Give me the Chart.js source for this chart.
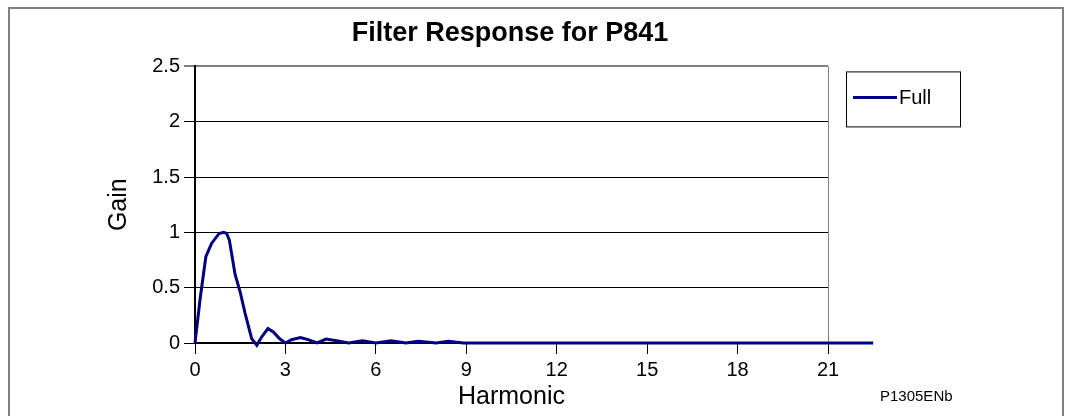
<!DOCTYPE html>
<html><head><meta charset="utf-8">
<script src="https://cdn.jsdelivr.net/npm/chart.js@4/dist/chart.umd.min.js"></script>
<style>
html,body{margin:0;padding:0;background:#fff;}
#wrap{position:relative;width:1066px;height:416px;overflow:hidden;background:#fff;}
#frame{position:absolute;left:8px;top:7px;width:1052px;height:500px;border:2px solid #808080;}
#c{position:absolute;left:0;top:0;}
</style></head><body>
<div id="wrap"><div id="frame"></div><canvas id="c" width="1066" height="416"></canvas></div>
<script>
// ---- data ----
const harmonic = [0, 0.17, 0.36, 0.55, 0.8, 0.95, 1.05, 1.14, 1.33, 1.5, 1.66, 1.88, 2.05, 2.2, 2.42, 2.6, 2.8, 3.0, 3.2, 3.5, 3.75, 4.05, 4.35, 4.7, 5.1, 5.55, 6.0, 6.5, 7.0, 7.4, 8.0, 8.4, 8.9, 22.5];
const gain     = [0, 0.40, 0.78, 0.90, 0.99, 1.0, 0.99, 0.93, 0.62, 0.46, 0.27, 0.04, -0.02, 0.05, 0.13, 0.10, 0.04, 0.0, 0.03, 0.05, 0.03, 0.0, 0.035, 0.02, 0.0, 0.02, 0.0, 0.02, 0.0, 0.015, 0.0, 0.015, 0.0, 0];
const xTicks = [0, 3, 6, 9, 12, 15, 18, 21];
const yTicks = [0, 0.5, 1, 1.5, 2, 2.5];
const yTickLabels = ['0', '0.5', '1', '1.5', '2', '2.5'];
const seriesName = 'Full';
const chartTitle = 'Filter Response for P841';
const xTitle = 'Harmonic';
const yTitle = 'Gain';
const figureCode = 'P1305ENb';

const FONT = '"Liberation Sans", Arial, sans-serif';
const NAVY = '#000080';

const boxLegend = {
  id: 'boxLegend',
  afterDraw(chart) {
    const ctx = chart.ctx;
    const ds = chart.data.datasets[0];
    const a = chart.chartArea;
    const x0 = a.right + 18, y0 = a.top + 5, w = 114, h = 55;
    ctx.save();
    ctx.strokeStyle = '#000';
    ctx.lineWidth = 1;
    ctx.strokeRect(x0 + 0.5, y0 + 0.5, w, h);
    const ly = y0 + 26;
    ctx.strokeStyle = ds.borderColor;
    ctx.lineWidth = 3;
    ctx.beginPath();
    ctx.moveTo(x0 + 7, ly);
    ctx.lineTo(x0 + 51, ly);
    ctx.stroke();
    ctx.fillStyle = '#000';
    ctx.font = '20px ' + FONT;
    ctx.textBaseline = 'middle';
    ctx.textAlign = 'left';
    ctx.fillText(ds.label, x0 + 53, ly + 1);
    // figure code at lower right
    ctx.font = '15px ' + FONT;
    ctx.fillText(figureCode, a.right + 52, 397);
    ctx.restore();
  }
};

new Chart(document.getElementById('c'), {
  type: 'line',
  data: {
    datasets: [{
      label: seriesName,
      data: harmonic.map((h, i) => ({x: h, y: gain[i]})),
      borderColor: NAVY,
      backgroundColor: NAVY,
      borderWidth: 3,
      pointRadius: 0,
      tension: 0,
      clip: false,
      yAxisID: 'y'
    }]
  },
  options: {
    responsive: false,
    animation: false,
    devicePixelRatio: 1,
    layout: {padding: {left: 0, right: 46, top: 0, bottom: 0}},
    plugins: {
      legend: {display: false},
      tooltip: {enabled: false},
      title: {
        display: true,
        text: chartTitle,
        color: '#000',
        font: {family: FONT, size: 27, weight: 'bold'},
        padding: {top: 17, bottom: 17}
      }
    },
    scales: {
      x: {
        type: 'linear',
        min: 0, max: 21,
        afterBuildTicks: s => { s.ticks = xTicks.map(v => ({value: v})); },
        afterFit: s => { s.height = 73; },
        grid: {
          drawOnChartArea: true,
          color: c => (c.tick && c.tick.value === 21) ? '#808080' : 'rgba(0,0,0,0)',
          lineWidth: 1,
          tickColor: '#000',
          tickLength: 11,
          tickWidth: 1
        },
        border: {display: true, color: '#000', width: 2},
        ticks: {color: '#000', font: {family: FONT, size: 20}, padding: 4, maxRotation: 0, autoSkip: false},
        title: {display: true, text: xTitle, color: '#000', font: {family: FONT, size: 25}, padding: {top: 0, bottom: 4}}
      },
      y: {
        type: 'linear',
        position: 'left',
        min: 0, max: 2.5,
        afterBuildTicks: s => { s.ticks = yTicks.map(v => ({value: v})); },
        afterFit: s => { s.width = 195; },
        grid: {
          color: c => (c.tick && c.tick.value === 2.5) ? '#808080' : '#000',
          lineWidth: c => (c.tick && c.tick.value === 2.5) ? 2 : 1,
          tickColor: '#000',
          tickLength: 11,
          tickWidth: 1
        },
        border: {display: true, color: '#000', width: 2},
        ticks: {
          color: '#000', font: {family: FONT, size: 20}, padding: 4,
          callback: (v) => { const i = yTicks.indexOf(v); return i >= 0 ? yTickLabels[i] : ''; }
        },
        title: {display: true, text: yTitle, color: '#000', font: {family: FONT, size: 25}, padding: {top: 104, bottom: 0}}
      },
      yR: {
        type: 'linear',
        position: 'right',
        display: true,
        grid: {display: false},
        border: {display: false},
        ticks: {display: false},
        afterFit: s => { s.width = 192; }
      }
    }
  },
  plugins: [boxLegend]
});
</script>
</body></html>
